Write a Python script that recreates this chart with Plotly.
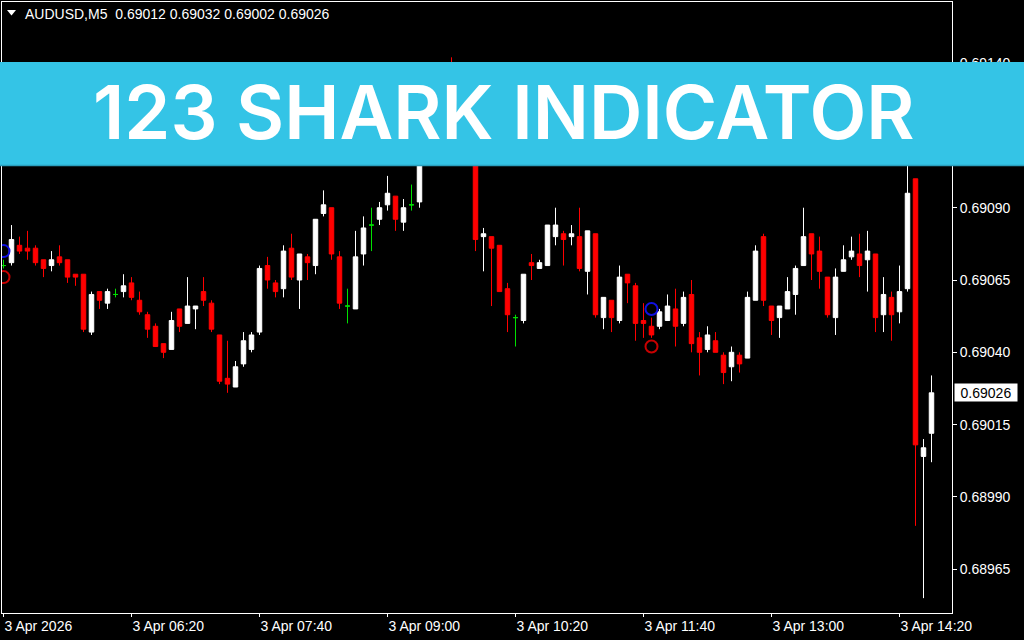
import numpy as np
import plotly.graph_objects as go

symbol = "AUDUSD,M5"

# 5-minute bars, 3 Apr (index 0 = first bar on the chart)
open_ = [0.69070, 0.69071, 0.69077, 0.69076, 0.69076, 0.69072, 0.69070, 0.69073, 0.69072, 0.69067,
         0.69067, 0.69047, 0.69061, 0.69057, 0.69060, 0.69061, 0.69064, 0.69058, 0.69053, 0.69049,
         0.69043, 0.69041, 0.69055, 0.69050, 0.69055, 0.69061, 0.69057, 0.69046, 0.69031, 0.69028,
         0.69036, 0.69041, 0.69047, 0.69070, 0.69064, 0.69062, 0.69076, 0.69065, 0.69073, 0.69070,
         0.69088, 0.69090, 0.69073, 0.69056, 0.69055, 0.69074, 0.69084, 0.69086, 0.69091, 0.69094,
         0.69085, 0.69091, 0.69092, 0.69112, 0.69121, 0.69118, 0.69131, 0.69124, 0.69115, 0.69120,
         0.69080, 0.69080, 0.69077, 0.69062, 0.69052, 0.69051, 0.69071, 0.69069, 0.69070, 0.69080,
         0.69081, 0.69080, 0.69080, 0.69068, 0.69081, 0.69052, 0.69058, 0.69051, 0.69067, 0.69063,
         0.69051, 0.69049, 0.69049, 0.69051, 0.69055, 0.69050, 0.69060, 0.69045, 0.69041, 0.69044,
         0.69039, 0.69035, 0.69039, 0.69038, 0.69058, 0.69080, 0.69056, 0.69052, 0.69055, 0.69060,
         0.69070, 0.69081, 0.69075, 0.69066, 0.69052, 0.69068, 0.69073, 0.69074, 0.69072, 0.69074,
         0.69053, 0.69059, 0.69054, 0.69062, 0.69100, 0.69004, 0.69012]
high_ = [0.69072, 0.69084, 0.69080, 0.69082, 0.69077, 0.69072, 0.69075, 0.69077, 0.69072, 0.69067,
         0.69067, 0.69061, 0.69061, 0.69062, 0.69062, 0.69067, 0.69066, 0.69061, 0.69054, 0.69050,
         0.69043, 0.69054, 0.69055, 0.69066, 0.69056, 0.69066, 0.69058, 0.69046, 0.69044, 0.69037,
         0.69047, 0.69047, 0.69070, 0.69073, 0.69065, 0.69077, 0.69081, 0.69074, 0.69074, 0.69086,
         0.69096, 0.69090, 0.69075, 0.69062, 0.69082, 0.69087, 0.69090, 0.69092, 0.69101, 0.69094,
         0.69093, 0.69098, 0.69114, 0.69124, 0.69130, 0.69134, 0.69142, 0.69129, 0.69126, 0.69122,
         0.69083, 0.69080, 0.69077, 0.69064, 0.69053, 0.69067, 0.69074, 0.69072, 0.69084, 0.69090,
         0.69082, 0.69084, 0.69090, 0.69082, 0.69081, 0.69059, 0.69058, 0.69070, 0.69067, 0.69064,
         0.69057, 0.69052, 0.69055, 0.69060, 0.69062, 0.69061, 0.69065, 0.69047, 0.69049, 0.69047,
         0.69040, 0.69042, 0.69040, 0.69061, 0.69077, 0.69081, 0.69056, 0.69056, 0.69066, 0.69070,
         0.69090, 0.69081, 0.69080, 0.69066, 0.69069, 0.69077, 0.69080, 0.69081, 0.69082, 0.69074,
         0.69066, 0.69061, 0.69070, 0.69112, 0.69100, 0.69010, 0.69032]
low_ = [0.69069, 0.69070, 0.69074, 0.69072, 0.69070, 0.69066, 0.69068, 0.69070, 0.69064, 0.69063,
        0.69047, 0.69046, 0.69055, 0.69055, 0.69059, 0.69059, 0.69058, 0.69053, 0.69045, 0.69042,
        0.69038, 0.69041, 0.69047, 0.69050, 0.69048, 0.69056, 0.69047, 0.69029, 0.69026, 0.69028,
        0.69035, 0.69040, 0.69046, 0.69062, 0.69059, 0.69059, 0.69065, 0.69055, 0.69065, 0.69067,
        0.69087, 0.69072, 0.69055, 0.69050, 0.69055, 0.69070, 0.69075, 0.69084, 0.69089, 0.69082,
        0.69082, 0.69089, 0.69090, 0.69108, 0.69116, 0.69115, 0.69120, 0.69112, 0.69110, 0.69075,
        0.69068, 0.69056, 0.69061, 0.69047, 0.69042, 0.69050, 0.69065, 0.69069, 0.69070, 0.69077,
        0.69070, 0.69077, 0.69068, 0.69060, 0.69052, 0.69048, 0.69047, 0.69050, 0.69057, 0.69044,
        0.69045, 0.69045, 0.69048, 0.69051, 0.69042, 0.69049, 0.69040, 0.69032, 0.69040, 0.69040,
        0.69029, 0.69030, 0.69033, 0.69038, 0.69058, 0.69056, 0.69046, 0.69045, 0.69055, 0.69053,
        0.69070, 0.69065, 0.69062, 0.69052, 0.69046, 0.69068, 0.69072, 0.69066, 0.69061, 0.69047,
        0.69047, 0.69044, 0.69050, 0.69061, 0.68980, 0.68955, 0.69002]
close_ = [0.69070, 0.69079, 0.69075, 0.69075, 0.69071, 0.69069, 0.69072, 0.69071, 0.69066, 0.69066,
          0.69048, 0.69060, 0.69058, 0.69061, 0.69060, 0.69063, 0.69059, 0.69054, 0.69048, 0.69042,
          0.69040, 0.69051, 0.69049, 0.69056, 0.69056, 0.69058, 0.69048, 0.69030, 0.69029, 0.69035,
          0.69044, 0.69046, 0.69069, 0.69065, 0.69061, 0.69075, 0.69066, 0.69074, 0.69071, 0.69086,
          0.69091, 0.69074, 0.69057, 0.69056, 0.69073, 0.69083, 0.69084, 0.69090, 0.69095, 0.69086,
          0.69090, 0.69091, 0.69112, 0.69121, 0.69118, 0.69131, 0.69124, 0.69115, 0.69120, 0.69079,
          0.69081, 0.69076, 0.69061, 0.69053, 0.69052, 0.69067, 0.69070, 0.69071, 0.69084, 0.69084,
          0.69079, 0.69081, 0.69069, 0.69082, 0.69053, 0.69059, 0.69052, 0.69066, 0.69064, 0.69050,
          0.69050, 0.69046, 0.69054, 0.69056, 0.69049, 0.69059, 0.69043, 0.69040, 0.69046, 0.69040,
          0.69033, 0.69040, 0.69036, 0.69059, 0.69075, 0.69058, 0.69051, 0.69056, 0.69061, 0.69069,
          0.69080, 0.69074, 0.69068, 0.69053, 0.69066, 0.69072, 0.69075, 0.69070, 0.69075, 0.69052,
          0.69060, 0.69053, 0.69061, 0.69095, 0.69008, 0.69007, 0.69026]

# 123 Shark indicator signals (bar index, price)
blue_sig_bar = [0, 81]
blue_sig_price = [0.69075, 0.69055]
red_sig_bar = [0, 81]
red_sig_price = [0.69066, 0.69042]

x_tick_bars = [0, 16, 32, 48, 64, 80, 96, 112]
x_tick_text = ["3 Apr 2026", "3 Apr 06:20", "3 Apr 07:40", "3 Apr 09:00",
               "3 Apr 10:20", "3 Apr 11:40", "3 Apr 13:00", "3 Apr 14:20"]
y_ticks = [0.68965, 0.68990, 0.69015, 0.69040, 0.69065, 0.69090, 0.69115, 0.69140]

banner_text = "123 SHARK INDICATOR"

o = np.array(open_); h = np.array(high_); l = np.array(low_); c = np.array(close_)
idx = np.arange(len(o))
doji = np.isclose(o, c)


def masked(arr, keep):
    return [v if k else None for v, k in zip(arr, keep)]


fig = go.Figure()
fig.add_trace(go.Candlestick(
    x=idx, open=masked(o, ~doji), high=masked(h, ~doji), low=masked(l, ~doji), close=masked(c, ~doji),
    increasing=dict(line=dict(color="#FFFFFF", width=1), fillcolor="#FFFFFF"),
    decreasing=dict(line=dict(color="#FF0000", width=1), fillcolor="#FF0000"),
    whiskerwidth=0, showlegend=False, hoverinfo="skip"))
fig.add_trace(go.Candlestick(
    x=idx, open=masked(o, doji), high=masked(h, doji), low=masked(l, doji), close=masked(c, doji),
    increasing=dict(line=dict(color="#00E000", width=1), fillcolor="#00E000"),
    decreasing=dict(line=dict(color="#00E000", width=1), fillcolor="#00E000"),
    whiskerwidth=0, showlegend=False, hoverinfo="skip"))
fig.add_trace(go.Scatter(x=blue_sig_bar, y=blue_sig_price, mode="markers", showlegend=False,
                         marker=dict(symbol="circle-open", size=12, color="#1010E0", line=dict(width=2, color="#1010E0")),
                         hoverinfo="skip"))
fig.add_trace(go.Scatter(x=red_sig_bar, y=red_sig_price, mode="markers", showlegend=False,
                         marker=dict(symbol="circle-open", size=12, color="#C80000", line=dict(width=2, color="#C80000")),
                         hoverinfo="skip"))

W, H = 1024, 640
ML, MR, MT, MB = 2, 72, 2, 27
PW, PH = W - ML - MR, H - MT - MB


def px_x(px):
    return (px - ML) / PW


def px_y(py):
    return (H - MB - py) / PH


font = "Liberation Sans, Arial, sans-serif"

fig.update_layout(
    width=W, height=H,
    margin=dict(l=ML, r=MR, t=MT, b=MB, pad=0, autoexpand=False),
    paper_bgcolor="#000000", plot_bgcolor="#000000",
    boxgap=0.44, boxgroupgap=0,
    font=dict(family=font, size=14, color="#FFFFFF"),
    xaxis=dict(range=[-0.1875, 118.5625], tickvals=x_tick_bars, ticktext=x_tick_text,
               showgrid=False, zeroline=False, showline=True, linecolor="#FFFFFF", linewidth=1, mirror=True,
               ticks="outside", ticklen=3, tickcolor="#FFFFFF", ticklabelposition="outside right",
               tickfont=dict(family=font, size=14, color="#FFFFFF"), rangeslider=dict(visible=False),
               fixedrange=True, automargin=False),
    yaxis=dict(range=[0.6894986, 0.6916113], side="right", tickvals=y_ticks, tickformat=".5f",
               showgrid=False, zeroline=False, showline=True, linecolor="#FFFFFF", linewidth=1, mirror=True,
               ticks="outside", ticklen=4, tickcolor="#FFFFFF",
               tickfont=dict(family=font, size=14, color="#FFFFFF"), fixedrange=True, automargin=False),
)

shapes = []
# dropdown triangle in the chart header
shapes.append(dict(type="path", xref="paper", yref="paper", layer="above",
                   path="M {} {} L {} {} L {} {} Z".format(px_x(7), px_y(10), px_x(16), px_y(10), px_x(11.5), px_y(15.5)),
                   fillcolor="#FFFFFF", line=dict(width=0)))
# banner
shapes.append(dict(type="rect", xref="paper", yref="paper", layer="above",
                   x0=px_x(-2), x1=px_x(1026), y0=px_y(166), y1=px_y(62),
                   fillcolor="#34C4E6", line=dict(width=0)))
shapes.append(dict(type="line", xref="paper", yref="paper", layer="above",
                   x0=px_x(-2), x1=px_x(1026), y0=px_y(165.5), y1=px_y(165.5),
                   line=dict(color="#2A9EBD", width=1.5)))
fig.update_layout(shapes=shapes)

annotations = [
    dict(xref="paper", yref="paper", x=px_x(23), y=px_y(13.5), xanchor="left", yanchor="middle",
         text="{}&nbsp; {:.5f} {:.5f} {:.5f} {:.5f}".format(symbol, o[-1], h[-1], l[-1], c[-1]),
         showarrow=False, font=dict(family=font, size=14, color="#FFFFFF")),
    dict(xref="paper", yref="y", x=px_x(954), y=c[-1], xanchor="left", yanchor="middle",
         text="{:.5f}".format(c[-1]), showarrow=False, bgcolor="#FFFFFF", width=60, height=15, borderpad=1,
         align="center", font=dict(family=font, size=14, color="#000000")),
    dict(xref="paper", yref="paper", x=px_x(504), y=px_y(112), xanchor="center", yanchor="middle",
         text=banner_text, showarrow=False,
         font=dict(family="Inter, Montserrat, sans-serif", size=74, color="#FFFFFF", weight=600)),
]
fig.update_layout(annotations=annotations)

fig.write_html("out.html", config={"displayModeBar": False, "staticPlot": True},
               post_script="document.body.style.margin='0';document.body.style.overflow='hidden';")
